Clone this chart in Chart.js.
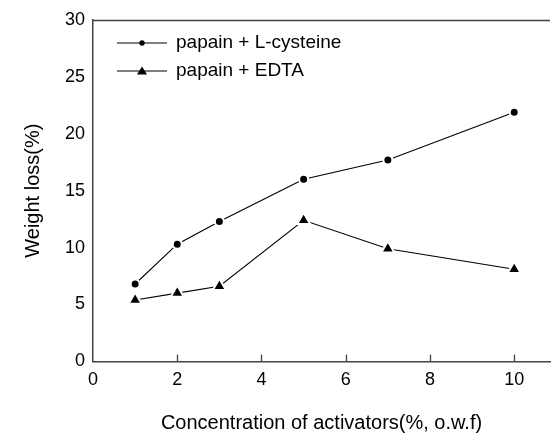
<!DOCTYPE html>
<html>
<head>
<meta charset="utf-8">
<script src="https://cdn.jsdelivr.net/npm/chart.js@4/dist/chart.umd.min.js"></script>
<style>
html,body{margin:0;padding:0;background:#fff}
#box{width:553px;height:439px}
</style>
</head>
<body>
<div id="box"><canvas id="grafico" width="553" height="439"></canvas></div>
<script>
// concentracao do ativador (% o.w.f)
let concentracao=[1,2,3,5,7,10]
let perdaCisteina=[6.8,10.3,12.3,16.0,17.7,21.9]
let perdaEDTA=[5.4,6.0,6.6,12.4,9.9,8.1]
let ticksX=[0,2,4,6,8,10]
let ticksY=[0,5,10,15,20,25,30]
let nomes=['papain + L-cysteine','papain + EDTA']

let fonte='"Liberation Sans", Arial, sans-serif'

function pares(xs,ys){
return xs.map((x,i)=>({x:x,y:ys[i]}))
}

// moldura superior, ticks para dentro e legenda dentro do grafico
let extras={
id:'extras',
afterDraw(chart){
let ctx=chart.ctx
let a=chart.chartArea
let sx=chart.scales.x
ctx.save()
ctx.strokeStyle='#444'
ctx.lineWidth=1.3
ctx.beginPath()
ctx.moveTo(a.left,a.top+0.5)
ctx.lineTo(a.right,a.top+0.5)
ticksX.forEach(t=>{
if(t===0)return
let px=Math.round(sx.getPixelForValue(t))+0.5
ctx.moveTo(px,a.bottom)
ctx.lineTo(px,a.bottom-7)
})
ctx.stroke()

chart.data.datasets.forEach((ds,i)=>{
let y=43+i*28
let x0=117,x1=167
ctx.strokeStyle='#000'
ctx.lineWidth=1
ctx.beginPath()
ctx.moveTo(x0,y)
ctx.lineTo(x1,y)
ctx.stroke()
ctx.fillStyle='#000'
ctx.beginPath()
if(ds.pointStyle==='triangle'){
ctx.moveTo(142,y-4.5)
ctx.lineTo(147,y+3.5)
ctx.lineTo(137,y+3.5)
ctx.closePath()
}else{
ctx.arc(142,y,2.7,0,Math.PI*2)
}
ctx.fill()
ctx.font='19px '+fonte
ctx.textBaseline='middle'
ctx.fillText(ds.label,176,y)
})
ctx.restore()
}
}

new Chart(document.getElementById('grafico'),{
type:'scatter',
data:{
datasets:[{
label:nomes[0],
data:pares(concentracao,perdaCisteina),
showLine:true,
borderColor:'#000',
borderWidth:1.1,
pointStyle:'circle',
pointRadius:4.5,
pointBackgroundColor:'#000',
pointBorderColor:'#fff',
pointBorderWidth:2
},{
label:nomes[1],
data:pares(concentracao,perdaEDTA),
showLine:true,
borderColor:'#000',
borderWidth:1.1,
pointStyle:'triangle',
pointRadius:7.5,
pointBackgroundColor:'#000',
pointBorderColor:'#fff',
pointBorderWidth:2
}]
},
options:{
responsive:false,
animation:false,
layout:{autoPadding:false,padding:{left:21,right:3,top:20,bottom:4}},
plugins:{
legend:{display:false},
tooltip:{enabled:false}
},
scales:{
x:{
type:'linear',
bounds:'data',
min:0,
max:10.85,
afterBuildTicks(s){
s.ticks=ticksX.map(v=>({value:v}))
},
afterFit(s){
s.paddingRight=0
},
border:{color:'#444',width:1.5},
grid:{display:false},
ticks:{color:'#000',font:{family:fonte,size:18},padding:0,maxRotation:0},
title:{
display:true,
text:'Concentration of activators(%, o.w.f)',
color:'#000',
font:{family:fonte,size:20},
padding:{top:20,bottom:0}
}
},
y:{
min:0,
max:30,
afterBuildTicks(s){
s.ticks=ticksY.map(v=>({value:v}))
},
afterFit(s){
s.paddingTop=0
},
border:{color:'#444',width:1.5},
grid:{display:false},
ticks:{color:'#000',font:{family:fonte,size:18},padding:0},
title:{
display:true,
text:'Weight loss(%)',
color:'#000',
font:{family:fonte,size:20},
padding:{top:0,bottom:20}
}
}
}
},
plugins:[extras]
})
</script>
</body>
</html>
